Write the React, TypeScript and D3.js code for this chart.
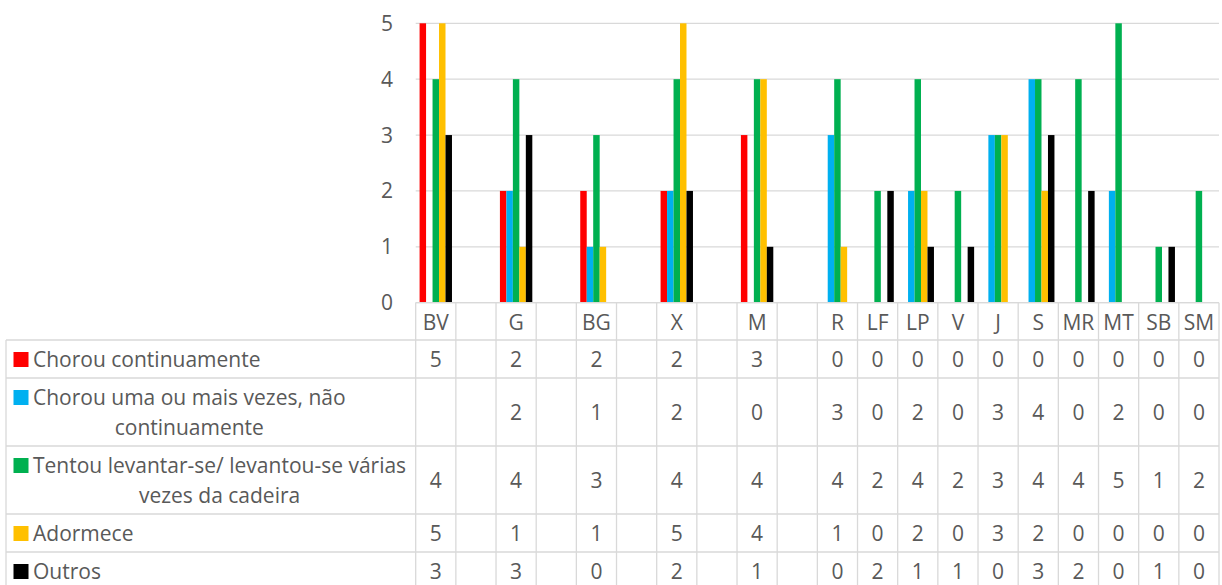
import { useEffect, useRef } from "react";
import * as d3 from "d3";

// categories (empty strings are the blank spacer columns of the original sheet)
const categories = ["BV", "", "G", "", "BG", "", "X", "", "M", "", "R", "LF", "LP", "V", "J", "S", "MR", "MT", "SB", "SM"];

const seriesNames = [
  "Chorou continuamente",
  "Chorou uma ou mais vezes, não continuamente",
  "Tentou levantar-se/ levantou-se várias vezes da cadeira",
  "Adormece",
  "Outros",
];
const seriesColors = ["#FF0000", "#00B0F0", "#00B050", "#FFC000", "#000000"];

const chorouContinuamente = [5, null, 2, null, 2, null, 2, null, 3, null, 0, 0, 0, 0, 0, 0, 0, 0, 0, 0];
const chorouUmaOuMais = [null, null, 2, null, 1, null, 2, null, 0, null, 3, 0, 2, 0, 3, 4, 0, 2, 0, 0];
const tentouLevantar = [4, null, 4, null, 3, null, 4, null, 4, null, 4, 2, 4, 2, 3, 4, 4, 5, 1, 2];
const adormece = [5, null, 1, null, 1, null, 5, null, 4, null, 1, 0, 2, 0, 3, 2, 0, 0, 0, 0];
const outros = [3, null, 3, null, 0, null, 2, null, 1, null, 0, 2, 1, 1, 0, 3, 2, 0, 1, 0];

const seriesValues = [chorouContinuamente, chorouUmaOuMais, tentouLevantar, adormece, outros];
const yTicks = [0, 1, 2, 3, 4, 5];

const FONT = "'Open Sans', sans-serif";
const TEXT = "#595959";
const GRID = "#D9D9D9";

const App = () => {
  const ref = useRef<SVGSVGElement>(null);

  useEffect(() => {
    document.body.style.margin = "0";
    if (!ref.current) return;
    const svg = d3.select(ref.current);
    svg.selectAll("*").remove();

    const plotLeft = 415.7;
    const plotRight = 1219;
    const plotTop = 23.3;
    const plotBottom = 302.7;
    const tableLeft = 6;
    const fontSize = 21;

    const x = d3
      .scaleBand<number>()
      .domain(d3.range(categories.length))
      .range([plotLeft, plotRight])
      .paddingInner(0)
      .paddingOuter(0);
    const xSub = d3
      .scaleBand<number>()
      .domain(d3.range(seriesNames.length))
      .range([0, x.bandwidth()])
      .paddingInner(0)
      .paddingOuter(0.6);
    const y = d3.scaleLinear().domain([0, 5]).range([plotBottom, plotTop]);

    // gridlines
    svg
      .append("g")
      .selectAll("line")
      .data(yTicks)
      .enter()
      .append("line")
      .attr("x1", plotLeft)
      .attr("x2", plotRight)
      .attr("y1", (d) => y(d))
      .attr("y2", (d) => y(d))
      .attr("stroke", GRID)
      .attr("stroke-width", 1.3);

    // y labels
    svg
      .append("g")
      .selectAll("text")
      .data(yTicks)
      .enter()
      .append("text")
      .attr("x", 393)
      .attr("y", (d) => y(d) + 7.5)
      .attr("text-anchor", "end")
      .attr("fill", TEXT)
      .attr("font-family", FONT)
      .attr("font-size", fontSize)
      .text((d) => d);

    // bars
    seriesValues.forEach((vals, s) => {
      svg
        .append("g")
        .selectAll("rect")
        .data(vals.map((v, i) => ({ v, i })).filter((d) => d.v !== null && d.v > 0))
        .enter()
        .append("rect")
        .attr("x", (d) => (x(d.i) as number) + (xSub(s) as number))
        .attr("width", xSub.bandwidth())
        .attr("y", (d) => y(d.v as number))
        .attr("height", (d) => plotBottom - y(d.v as number))
        .attr("fill", seriesColors[s]);
    });

    // data table
    const table = svg.append("g");
    const headerBottom = 340;
    const lineH = 30;

    // wrap the series labels
    const measure = svg.append("text").attr("font-family", FONT).attr("font-size", fontSize);
    const maxW = plotLeft - 33 - 1;
    const wrapped = seriesNames.map((name) => {
      const words = name.split(" ");
      const lines: string[] = [];
      let cur = "";
      words.forEach((w) => {
        const test = cur ? cur + " " + w : w;
        measure.text(test);
        const len = (measure.node() as SVGTextElement).getComputedTextLength();
        if (len > maxW && cur) {
          lines.push(cur);
          cur = w;
        } else cur = test;
      });
      lines.push(cur);
      return lines;
    });
    measure.remove();

    const rowTops: number[] = [];
    let yy = headerBottom;
    wrapped.forEach((lines) => {
      rowTops.push(yy);
      yy += 8 + lineH * lines.length;
    });
    const rowHeights = wrapped.map((lines) => 8 + lineH * lines.length);
    const tableBottom = yy;

    // horizontal lines
    table
      .append("line")
      .attr("x1", plotLeft)
      .attr("x2", plotRight)
      .attr("y1", plotBottom)
      .attr("y2", plotBottom)
      .attr("stroke", GRID)
      .attr("stroke-width", 1.3);
    table
      .selectAll(".hrow")
      .data([...rowTops, tableBottom])
      .enter()
      .append("line")
      .attr("x1", tableLeft)
      .attr("x2", plotRight)
      .attr("y1", (d) => d)
      .attr("y2", (d) => d)
      .attr("stroke", GRID)
      .attr("stroke-width", 1.3);

    // vertical lines
    const colEdges = [...d3.range(categories.length).map((i) => x(i) as number), plotRight];
    table
      .selectAll(".vcol")
      .data(colEdges)
      .enter()
      .append("line")
      .attr("x1", (d) => d)
      .attr("x2", (d) => d)
      .attr("y1", plotBottom)
      .attr("y2", tableBottom)
      .attr("stroke", GRID)
      .attr("stroke-width", 1.3);
    table
      .append("line")
      .attr("x1", tableLeft)
      .attr("x2", tableLeft)
      .attr("y1", headerBottom)
      .attr("y2", tableBottom)
      .attr("stroke", GRID)
      .attr("stroke-width", 1.3);

    // header labels
    table
      .selectAll(".cat")
      .data(categories)
      .enter()
      .append("text")
      .attr("x", (_d, i) => (x(i) as number) + x.bandwidth() / 2)
      .attr("y", 329.5)
      .attr("text-anchor", "middle")
      .attr("fill", TEXT)
      .attr("font-family", FONT)
      .attr("font-size", fontSize)
      .text((d) => d);

    // legend + values per row
    wrapped.forEach((lines, s) => {
      const top = rowTops[s];
      const row = table.append("g");
      row
        .append("rect")
        .attr("x", 13.5)
        .attr("y", top + 12)
        .attr("width", 15)
        .attr("height", 15)
        .attr("fill", seriesColors[s]);
      const firstLine = row
        .append("text")
        .attr("x", 33)
        .attr("y", top + 26.5)
        .attr("fill", TEXT)
        .attr("font-family", FONT)
        .attr("font-size", fontSize)
        .text(lines[0]);
      const w0 = (firstLine.node() as SVGTextElement).getComputedTextLength();
      lines.slice(1).forEach((ln, k) => {
        row
          .append("text")
          .attr("x", 33 + w0 / 2)
          .attr("y", top + 26.5 + lineH * (k + 1))
          .attr("text-anchor", "middle")
          .attr("fill", TEXT)
          .attr("font-family", FONT)
          .attr("font-size", fontSize)
          .text(ln);
      });
      row
        .selectAll(".val")
        .data(seriesValues[s])
        .enter()
        .append("text")
        .attr("x", (_d, i) => (x(i) as number) + x.bandwidth() / 2)
        .attr("y", top + rowHeights[s] / 2 + 8)
        .attr("text-anchor", "middle")
        .attr("fill", TEXT)
        .attr("font-family", FONT)
        .attr("font-size", fontSize)
        .text((d) => (d === null ? "" : d));
    });
  }, []);

  return <svg ref={ref} width={1222} height={585} style={{ display: "block", background: "#fff" }}></svg>;
};

export default App;
